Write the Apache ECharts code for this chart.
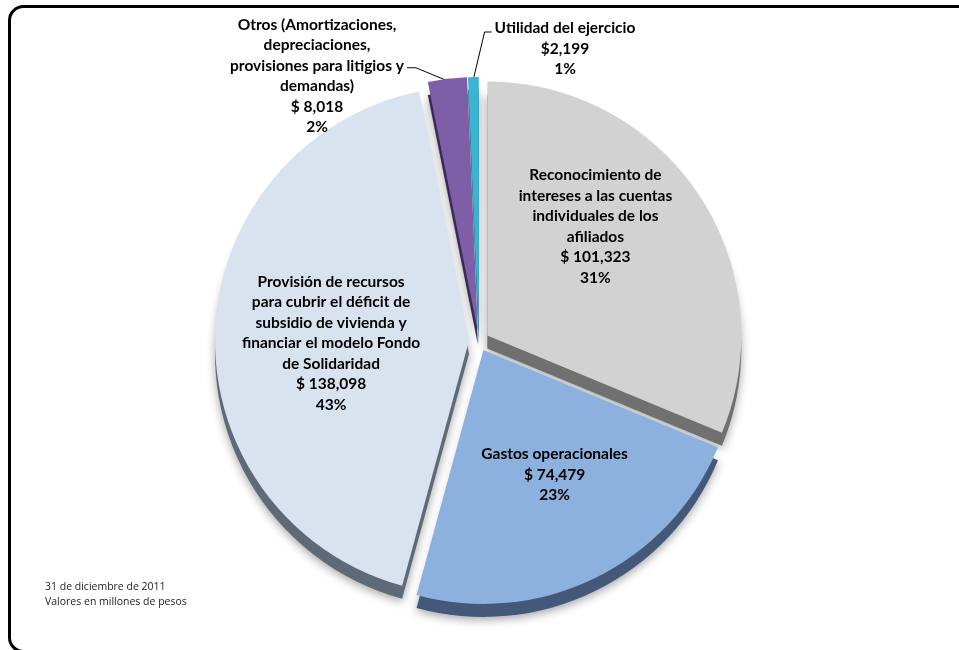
<!DOCTYPE html>
<html>
<head>
<meta charset="utf-8">
<script src="https://cdn.jsdelivr.net/npm/echarts@6/dist/echarts.min.js"></script>
<style>
  html, body { margin: 0; padding: 0; background: #ffffff; }
  #chart { width: 959px; height: 650px; }
</style>
</head>
<body>
<div id="chart"></div>
<script>
// Uses of resources, 31 Dec 2011 (millions of pesos)
const categories = [
  'Reconocimiento de\nintereses a las cuentas\nindividuales de los\nafiliados',
  'Gastos operacionales',
  'Provisión de recursos\npara cubrir el déficit de\nsubsidio de vivienda y\nfinanciar el modelo Fondo\nde Solidaridad',
  'Otros (Amortizaciones,\ndepreciaciones,\nprovisiones para litigios y\ndemandas)',
  'Utilidad del ejercicio'
];
const values = [101323, 74479, 138098, 8018, 2199];
const currencyPrefix = ['$ ', '$ ', '$ ', '$ ', '$'];

// Face and side colours of each slice
const topColors = ['#d2d2d2', '#8db1de', '#d9e3f0', '#7d5ea7', '#3ab4d2'];
const sideColors = ['#707070', '#44597a', '#5f6a78', '#3c2a58', '#1d6f86'];

const CX = 479, CY = 341, R = 254, DEPTH = 13, EXPLODE = 10;
const LINE_H = 20.5;

// Inside labels: nudges from the default spot. Outer labels: block centres.
const insideShift = { 0: { dx: 0, dy: -37 }, 1: { dx: 14, dy: 8 }, 2: { dx: -8, dy: 7 } };
const outerCentre = { 3: [317, 76], 4: [565, 48.5] };

const fmt = v => v.toLocaleString('en-US');

// Mid angle of a slice, clockwise from 12 o'clock
const total = values.reduce((a, b) => a + b, 0);
function midAngle(i) {
  const before = values.slice(0, i).reduce((a, b) => a + b, 0);
  return (before + values[i] / 2) / total * 2 * Math.PI;
}
// Displacement each exploded slice (and its label) receives
function explodeOffset(i) {
  const ang = midAngle(i);
  return [Math.sin(ang) * EXPLODE, -Math.cos(ang) * EXPLODE];
}

function sliceData(colors, withLabels) {
  return categories.map((name, i) => {
    const item = {
      name: name,
      value: values[i],
      selected: true,
      itemStyle: { color: colors[i] }
    };
    if (withLabels) {
      const outer = i >= 3;
      item.label = { position: outer ? 'outside' : 'inside' };
      item.labelLine = { show: outer };
    }
    return item;
  });
}

function placeLabel(params) {
  const i = params.dataIndex;
  if (insideShift[i]) return insideShift[i];
  const r = params.labelRect;
  const [ox, oy] = explodeOffset(i);
  const tx = outerCentre[i][0] - ox;
  const ty = outerCentre[i][1] - oy;
  const dx = tx - (r.x + r.width);
  const dy = ty - (r.y + r.height / 2);
  // leader starts on the outer arc at the slice's mid angle
  const ang = midAngle(i);
  const start = [CX + Math.sin(ang) * (R - 2), CY - Math.cos(ang) * (R - 2)];
  let end, elbow;
  if (i === 3) {
    // leaves the right end of the third text line
    end = [tx + r.width / 2 + 3, ty - LINE_H * 0.5 + 2];
    elbow = [end[0] + 9, end[1]];
  } else {
    // leaves the left end of the first text line
    end = [tx - r.width / 2 - 3, ty - LINE_H + 4];
    elbow = [end[0] - 7, end[1]];
  }
  return { dx: dx, dy: dy, align: 'center', labelLinePoints: [start, elbow, end] };
}

const chart = echarts.init(document.getElementById('chart'), null, { renderer: 'canvas' });

chart.setOption({
  backgroundColor: '#ffffff',
  animation: false,
  graphic: [
    {
      type: 'rect',
      shape: { x: 9.5, y: 6.5, width: 1000, height: 645, r: 14 },
      style: { fill: 'none', stroke: '#000000', lineWidth: 3 },
      silent: true,
      z: 10
    },
    {
      type: 'text',
      left: 45,
      top: 580,
      style: {
        text: '31 de diciembre de 2011\nValores en millones de pesos',
        fill: '#222222',
        font: '10.5px "Open Sans", Lato, sans-serif',
        lineHeight: 15
      },
      silent: true
    }
  ],
  series: [
    {
      // side walls, drawn slightly lower to give the pie depth
      type: 'pie',
      z: 1,
      silent: true,
      center: [CX, CY + DEPTH],
      radius: R,
      startAngle: 90,
      clockwise: true,
      selectedMode: 'multiple',
      selectedOffset: EXPLODE,
      label: { show: false },
      labelLine: { show: false },
      itemStyle: {
        shadowBlur: 10,
        shadowColor: 'rgba(0,0,0,0.35)',
        shadowOffsetY: 3
      },
      select: { itemStyle: { borderWidth: 0 } },
      emphasis: { disabled: true },
      data: sliceData(sideColors, false)
    },
    {
      type: 'pie',
      z: 2,
      center: [CX, CY],
      radius: R,
      startAngle: 90,
      clockwise: true,
      avoidLabelOverlap: false,
      percentPrecision: 0,
      selectedMode: 'multiple',
      selectedOffset: EXPLODE,
      select: { itemStyle: { borderWidth: 0 } },
      emphasis: { disabled: true },
      label: {
        show: true,
        color: '#000000',
        fontWeight: 'bold',
        fontSize: 15.5,
        lineHeight: LINE_H,
        fontFamily: 'Lato, "Open Sans", sans-serif',
        align: 'center',
        formatter: p => `${p.name}\n${currencyPrefix[p.dataIndex]}${fmt(p.value)}\n${p.percent}%`
      },
      labelLine: {
        show: false,
        length: 20,
        length2: 8,
        smooth: false,
        lineStyle: { color: '#000000', width: 1 }
      },
      labelLayout: placeLabel,
      data: sliceData(topColors, true)
    }
  ]
});
</script>
</body>
</html>
